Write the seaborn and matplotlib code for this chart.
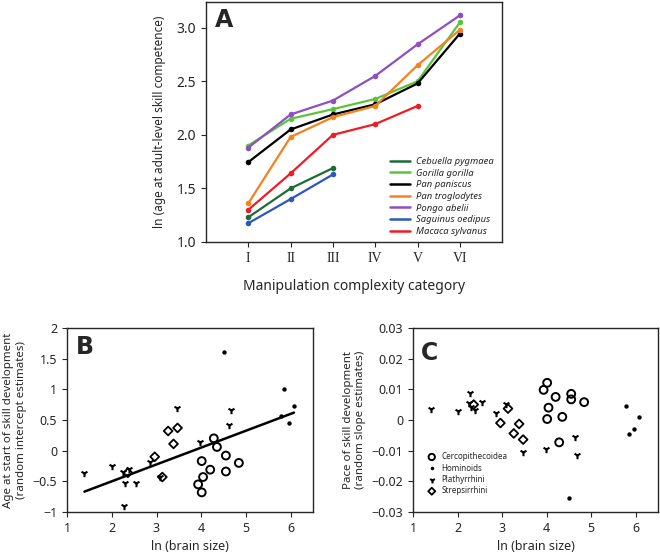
import numpy as np
import pandas as pd
import matplotlib
matplotlib.use("Agg")
import matplotlib.pyplot as plt
from matplotlib.ticker import FuncFormatter
from matplotlib.lines import Line2D
import seaborn as sns

# ---- Panel A data: ln(age at adult-level competence) by complexity category
categories = ["I", "II", "III", "IV", "V", "VI"]
species = ["Cebuella pygmaea", "Gorilla gorilla", "Pan paniscus", "Pan troglodytes",
           "Pongo abelii", "Saguinus oedipus", "Macaca sylvanus"]
cebuella = [1.23, 1.50, 1.69]
gorilla = [1.90, 2.15, 2.24, 2.335, 2.50, 3.05]
paniscus = [1.745, 2.05, 2.19, 2.285, 2.48, 2.945]
troglodytes = [1.36, 1.98, 2.165, 2.27, 2.65, 2.98]
pongo = [1.88, 2.19, 2.32, 2.55, 2.845, 3.115]
saguinus = [1.175, 1.40, 1.63]
macaca = [1.30, 1.64, 2.00, 2.10, 2.27]
species_colors = ["#1d6b35", "#5ac53a", "#000000", "#f58220", "#8e4fc0", "#2e57b8", "#ee1c24"]

# ---- Panels B and C data: per-species random effects vs ln(brain size)
cerco_x = [3.93, 4.01, 4.01, 4.04, 4.20, 4.28, 4.35, 4.55, 4.55, 4.84]
cerco_int = [-0.55, -0.17, -0.68, -0.43, -0.31, 0.20, 0.06, -0.08, -0.34, -0.20]
cerco_slope = [0.0098, 0.0121, 0.0003, 0.0040, 0.0075, -0.0073, 0.0010, 0.0085, 0.0067, 0.0058]

homin_x = [4.50, 5.78, 5.85, 5.97, 6.07]
homin_int = [1.60, 0.56, 1.00, 0.45, 0.73]
homin_slope = [-0.0254, 0.0045, -0.0046, -0.0031, 0.0008]

platy_x = [1.39, 2.00, 2.27, 2.25, 2.30, 2.38, 2.54, 2.85, 3.08, 3.46, 3.98, 4.63, 4.67]
platy_int = [-0.37, -0.25, -0.91, -0.34, -0.52, -0.30, -0.53, -0.18, -0.43, 0.69, 0.14, 0.42, 0.67]
platy_slope = [0.0037, 0.0029, 0.0087, 0.0055, 0.0043, 0.0033, 0.0058, 0.0022, 0.0052,
               -0.0104, -0.0095, -0.0055, -0.0114]

strep_x = [2.36, 2.96, 3.13, 3.26, 3.38, 3.47]
strep_int = [-0.36, -0.10, -0.43, 0.32, 0.11, 0.37]
strep_slope = [0.0050, -0.0010, 0.0037, -0.0044, -0.0013, -0.0064]

# fitted line in panel B
fit_slope = 0.275
fit_intercept = -1.05

group_names = ["Cercopithecoidea", "Hominoids", "Plathyrrhini", "Strepsirrhini"]

# ---- build tables
series_a = [cebuella, gorilla, paniscus, troglodytes, pongo, saguinus, macaca]
rows = []
for sp, vals in zip(species, series_a):
    for i, v in enumerate(vals):
        rows.append({"species": sp, "cat": i + 1, "value": v})
df_a = pd.DataFrame(rows)

df_b = pd.concat([
    pd.DataFrame({"group": group_names[0], "x": cerco_x, "intercept": cerco_int, "slope": cerco_slope}),
    pd.DataFrame({"group": group_names[1], "x": homin_x, "intercept": homin_int, "slope": homin_slope}),
    pd.DataFrame({"group": group_names[2], "x": platy_x, "intercept": platy_int, "slope": platy_slope}),
    pd.DataFrame({"group": group_names[3], "x": strep_x, "intercept": strep_int, "slope": strep_slope}),
], ignore_index=True)

sns.set_style("ticks")
plt.rcParams["font.family"] = ["Noto Sans", "DejaVu Sans"]
plt.rcParams["axes.linewidth"] = 1.0

fig = plt.figure(figsize=(6.6, 5.53), dpi=100)
ax_a = fig.add_axes([0.312, 0.5624, 0.449, 0.434])
ax_b = fig.add_axes([0.1015, 0.0741, 0.373, 0.333])
ax_c = fig.add_axes([0.626, 0.0741, 0.371, 0.333])

# ---- Panel A
palette = dict(zip(species, species_colors))
sns.lineplot(data=df_a, x="cat", y="value", hue="species", hue_order=species,
             palette=palette, marker="o", markersize=4, markeredgewidth=0,
             linewidth=1.6, ax=ax_a, legend=False)
ax_a.set_xlim(0, 7)
ax_a.set_ylim(1.0, 3.24)
ax_a.set_xticks(range(1, 7))
ax_a.set_xticklabels(categories, family="Liberation Serif", fontsize=12.5)
ax_a.set_yticks([1.0, 1.5, 2.0, 2.5, 3.0])
ax_a.tick_params(labelsize=10)
ax_a.set_xlabel("Manipulation complexity category", fontsize=10, labelpad=10)
ax_a.set_ylabel("ln (age at adult-level skill competence)", fontsize=8.5, labelpad=8)
ax_a.text(0.03, 0.975, "A", transform=ax_a.transAxes, fontsize=17, fontweight="bold",
          ha="left", va="top", family="DejaVu Sans")
handles = [Line2D([], [], color=c, lw=1.8) for c in species_colors]
ax_a.legend(handles, species, loc="lower right", bbox_to_anchor=(1.0, -0.01), frameon=False,
            prop={"size": 6.8, "style": "italic", "weight": "bold"},
            handlelength=2.2, labelspacing=0.28, handletextpad=0.6)

# ---- Panels B and C
markers = {"Cercopithecoidea": "o", "Hominoids": "o", "Plathyrrhini": "1", "Strepsirrhini": "D"}
face = {"Cercopithecoidea": "none", "Hominoids": "black", "Plathyrrhini": "black", "Strepsirrhini": "none"}
sizes = {"Cercopithecoidea": 32, "Hominoids": 10, "Plathyrrhini": 28, "Strepsirrhini": 20}
widths = {"Cercopithecoidea": 1.4, "Hominoids": 0, "Plathyrrhini": 1.5, "Strepsirrhini": 1.3}

for ax, col in [(ax_b, "intercept"), (ax_c, "slope")]:
    for g in group_names:
        sub = df_b[df_b["group"] == g]
        sns.scatterplot(data=sub, x="x", y=col, marker=markers[g], s=sizes[g],
                        facecolor=face[g], edgecolor="black", color="black",
                        linewidth=widths[g], ax=ax, label=g, zorder=3)
    ax.set_xlim(1, 6.5)
    ax.set_xticks([1, 2, 3, 4, 5, 6])
    ax.tick_params(labelsize=9)
    ax.set_xlabel("ln (brain size)", fontsize=9)

xs = np.array([df_b["x"].min(), df_b["x"].max()])
ax_b.plot(xs, fit_intercept + fit_slope * xs, color="black", lw=1.8, zorder=2)
ax_b.set_ylim(-1, 2)
ax_b.set_yticks([-1, -0.5, 0, 0.5, 1, 1.5, 2])
ax_b.yaxis.set_major_formatter(FuncFormatter(lambda v, p: f"{v:g}".replace("-", "\u2212")))
ax_b.set_ylabel("Age at start of skill development\n(random intercept estimates)", fontsize=8.3)
ax_b.legend().remove()
ax_b.text(0.037, 0.96, "B", transform=ax_b.transAxes, fontsize=17, fontweight="bold",
          ha="left", va="top", family="DejaVu Sans")

ax_c.set_ylim(-0.03, 0.03)
ax_c.set_yticks([-0.03, -0.02, -0.01, 0, 0.01, 0.02, 0.03])
ax_c.yaxis.set_major_formatter(FuncFormatter(lambda v, p: ("0" if abs(v) < 1e-9 else f"{v:.2f}").replace("-", "\u2212")))
ax_c.set_ylabel("Pace of skill development\n(random slope estimates)", fontsize=8.3)
ax_c.legend(loc="lower left", bbox_to_anchor=(0.02, 0.06), frameon=False, fontsize=5.8,
            markerscale=0.8, handletextpad=0.2, labelspacing=0.3, borderpad=0.2)
ax_c.text(0.03, 0.93, "C", transform=ax_c.transAxes, fontsize=17, fontweight="bold",
          ha="left", va="top", family="DejaVu Sans")

fig.savefig("out.png", dpi=100)
